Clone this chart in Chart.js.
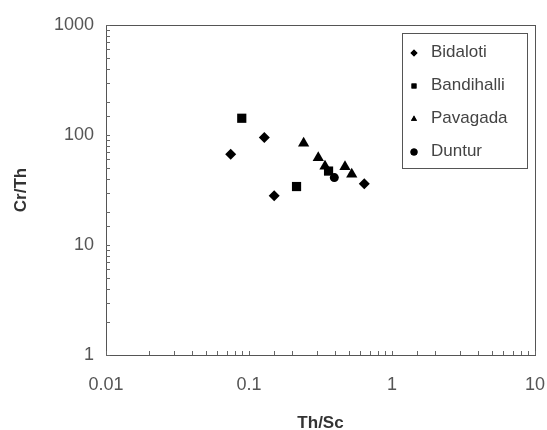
<!DOCTYPE html>
<html>
<head>
<meta charset="utf-8">
<script src="https://cdn.jsdelivr.net/npm/chart.js@4/dist/chart.umd.min.js"></script>
<style>
    html, body { margin: 0; padding: 0; background: #fff; }
    #wrap { width: 547px; height: 430px; }
</style>
</head>
<body>
<div id="wrap"><canvas id="chart" width="547" height="430"></canvas></div>
<script>
// Th/Sc vs Cr/Th
const seriesNames = ['Bidaloti', 'Bandihalli', 'Pavagada', 'Duntur'];
const bidalotiX = [0.0745, 0.128, 0.150, 0.64];
const bidalotiY = [67, 95, 28, 36];
const bandihalliX = [0.089, 0.215, 0.36];
const bandihalliY = [142, 34, 47];
const pavagadaX = [0.241, 0.305, 0.34, 0.469, 0.523];
const pavagadaY = [84, 62, 52, 51.5, 44];
const dunturX = [0.395];
const dunturY = [41];
const xTickLabels = [0.01, 0.1, 1, 10];
const yTickLabels = [1, 10, 100, 1000];

const pointStyles = ['rectRot', 'rect', 'triangle', 'circle'];
const pointSizes = [5.5, 6.5, 6.5, 4.5];
const fontFamily = '"Liberation Sans", Arial, sans-serif';

function toPoints(xs, ys) {
    return xs.map((x, i) => ({x: x, y: ys[i]}));
}

const allSeries = [
    toPoints(bidalotiX, bidalotiY),
    toPoints(bandihalliX, bandihalliY),
    toPoints(pavagadaX, pavagadaY),
    toPoints(dunturX, dunturY)
];

const datasets = seriesNames.map((name, i) => ({
    label: name,
    data: allSeries[i],
    pointStyle: pointStyles[i],
    pointRadius: pointSizes[i],
    pointHoverRadius: pointSizes[i],
    backgroundColor: '#000',
    borderColor: '#000',
    borderWidth: 0,
    showLine: false
}));

// frame, inward ticks and boxed legend
const framePlugin = {
    id: 'frame',
    afterDraw(chart) {
        const ctx = chart.ctx;
        const a = chart.chartArea;
        ctx.save();
        ctx.strokeStyle = '#555';
        ctx.lineWidth = 1;
        ctx.strokeRect(a.left + 0.5, a.top + 0.5, a.right - a.left, a.bottom - a.top);

        ctx.strokeStyle = '#666';
        const xs = chart.scales.x, ys = chart.scales.y;
        xs.ticks.forEach(t => {
            const px = Math.round(xs.getPixelForValue(t.value)) + 0.5;
            ctx.beginPath();
            ctx.moveTo(px, a.bottom);
            ctx.lineTo(px, a.bottom - 4);
            ctx.stroke();
        });
        ys.ticks.forEach(t => {
            const py = Math.round(ys.getPixelForValue(t.value)) + 0.5;
            ctx.beginPath();
            ctx.moveTo(a.left, py);
            ctx.lineTo(a.left + 4, py);
            ctx.stroke();
        });

        // legend box
        const lx = 402, ly = 33, lw = 125, lh = 135;
        ctx.strokeStyle = '#555';
        ctx.strokeRect(lx + 0.5, ly + 0.5, lw, lh);
        ctx.font = '17px ' + fontFamily;
        ctx.textBaseline = 'middle';
        chart.data.datasets.forEach((ds, i) => {
            const cy = ly + 19 + i * 33;
            ctx.fillStyle = '#000';
            Chart.helpers.drawPoint(ctx, {pointStyle: ds.pointStyle, radius: 3.5, borderWidth: 0}, lx + 12, cy + 1);
            ctx.fill();
            ctx.fillStyle = '#444';
            ctx.fillText(ds.label, lx + 29, cy);
        });
        ctx.restore();
    }
};

const canvas = document.getElementById('chart');
// the reference text is set a little wide
canvas.getContext('2d').letterSpacing = '1px';

new Chart(canvas, {
    type: 'scatter',
    data: {datasets: datasets},
    options: {
        responsive: false,
        animation: false,
        layout: {padding: {top: 25, right: 12, left: 11, bottom: 0}},
        plugins: {legend: {display: false}, tooltip: {enabled: false}},
        scales: {
            x: {
                type: 'logarithmic',
                min: 0.01,
                max: 10,
                grid: {display: false, drawTicks: false},
                border: {display: false},
                afterFit: s => { s.height = 75; s.paddingLeft = 0; s.paddingRight = 0; },
                ticks: {
                    autoSkip: false,
                    maxRotation: 0,
                    padding: 19,
                    color: '#555',
                    font: {family: fontFamily, size: 18},
                    callback: v => xTickLabels.includes(Number(v)) ? String(v) : ''
                },
                title: {
                    display: true,
                    text: 'Th/Sc',
                    color: '#333',
                    padding: {top: 22, bottom: -4},
                    font: {family: fontFamily, size: 17, weight: 'bold'}
                }
            },
            y: {
                type: 'logarithmic',
                min: 1,
                max: 1000,
                grid: {display: false, drawTicks: false},
                border: {display: false},
                afterFit: s => { s.width = 95; s.paddingTop = 0; s.paddingBottom = 0; },
                ticks: {
                    autoSkip: false,
                    padding: 12,
                    color: '#555',
                    font: {family: fontFamily, size: 18},
                    callback: v => yTickLabels.includes(Number(v)) ? String(v) : ''
                },
                title: {
                    display: true,
                    text: 'Cr/Th',
                    color: '#333',
                    padding: {top: 0, bottom: 0},
                    font: {family: fontFamily, size: 17, weight: 'bold'}
                }
            }
        }
    },
    plugins: [framePlugin]
});
</script>
</body>
</html>
